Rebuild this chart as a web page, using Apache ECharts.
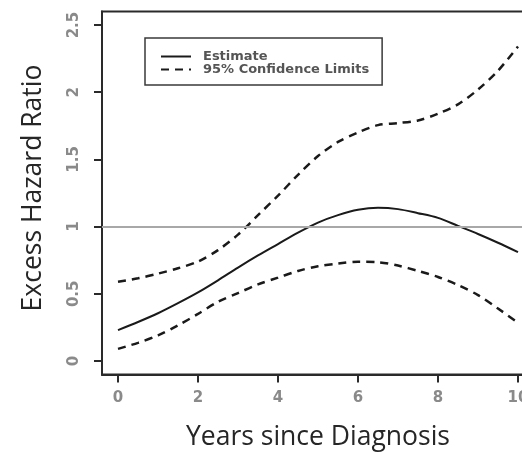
<!DOCTYPE html>
<html>
<head>
<meta charset="utf-8">
<script src="https://cdn.jsdelivr.net/npm/echarts@6/dist/echarts.min.js"></script>
<style>
  html, body { margin: 0; padding: 0; background: #fff; }
  #chart { width: 522px; height: 452px; }
</style>
</head>
<body>
<div id="chart"></div>
<script>
// Years since diagnosis, sampled every half year
const years = [0, 0.5, 1, 1.5, 2, 2.5, 3, 3.5, 4, 4.5, 5, 5.5, 6, 6.5, 7, 7.5, 8, 8.5, 9, 9.5, 10];

// Excess hazard ratio estimate
const estimate = [0.23, 0.29, 0.355, 0.43, 0.51, 0.60, 0.695, 0.785, 0.87, 0.955, 1.03, 1.085, 1.125, 1.14, 1.13, 1.10, 1.065, 1.005, 0.945, 0.88, 0.81];

// 95% confidence limits
const upperLimit = [0.59, 0.615, 0.65, 0.69, 0.74, 0.825, 0.94, 1.085, 1.23, 1.385, 1.525, 1.63, 1.70, 1.755, 1.77, 1.79, 1.84, 1.91, 2.02, 2.16, 2.34];
const lowerLimit = [0.09, 0.135, 0.19, 0.265, 0.35, 0.44, 0.505, 0.57, 0.62, 0.67, 0.705, 0.725, 0.738, 0.735, 0.71, 0.67, 0.625, 0.565, 0.49, 0.39, 0.285];

// Axis ticks
const xTicks = [0, 2, 4, 6, 8, 10];
const yTicks = [0, 0.5, 1, 1.5, 2, 2.5];
const referenceRatio = 1;

const pair = (xs, ys) => xs.map((x, i) => [x, ys[i]]);

const ink = '#1a1a1a';
const axisInk = '#2a2a2a';
const tickText = { color: '#8a8a8a', fontFamily: 'DejaVu Sans', fontSize: 15, fontWeight: 'bold' };
const titleText = { color: '#262626', fontFamily: 'Open Sans', fontSize: 26.5 };

const chart = echarts.init(document.getElementById('chart'), null, { renderer: 'canvas' });

chart.setOption({
  animation: false,
  backgroundColor: '#fff',
  grid: {
    left: 102, top: 11.6, width: 432, height: 362.8,
    show: true, borderColor: axisInk, borderWidth: 2,
    outerBoundsMode: 'none'
  },
  legend: {
    orient: 'vertical',
    left: 145, top: 38,
    padding: [12, 13, 9, 15],
    borderColor: '#3a3a3a', borderWidth: 1.5, borderRadius: 0,
    itemWidth: 30, itemHeight: 14, itemGap: 0,
    itemStyle: { opacity: 0 },
    textStyle: { color: '#555', fontFamily: 'DejaVu Sans', fontSize: 13, fontWeight: 'bold', padding: [0, 0, 0, 7] },
    data: ['Estimate', '95% Confidence Limits']
  },
  xAxis: {
    type: 'value', min: -0.4, max: 10.4,
    name: 'Years since Diagnosis', nameLocation: 'middle', nameGap: 50,
    nameTextStyle: titleText,
    axisLine: { show: true, onZero: false, lineStyle: { color: axisInk, width: 2 } },
    axisTick: { show: true, inside: false, length: 8, customValues: xTicks, lineStyle: { color: axisInk, width: 2 } },
    axisLabel: Object.assign({ customValues: xTicks, margin: 16 }, tickText),
    splitLine: { show: false }
  },
  yAxis: {
    type: 'value', min: -0.1, max: 2.6,
    name: 'Excess Hazard Ratio', nameLocation: 'middle', nameGap: 55,
    nameTextStyle: Object.assign({ padding: [0, 0, 0, 10] }, titleText),
    axisLine: { show: true, onZero: false, lineStyle: { color: axisInk, width: 2 } },
    axisTick: { show: true, inside: false, length: 8, customValues: yTicks, lineStyle: { color: axisInk, width: 2 } },
    axisLabel: Object.assign({ customValues: yTicks, rotate: 90, margin: 20 }, tickText),
    splitLine: { show: false }
  },
  series: [
    {
      name: 'Estimate', type: 'line', smooth: 0.3, symbol: 'none',
      data: pair(years, estimate),
      lineStyle: { color: ink, width: 2 },
      itemStyle: { color: ink },
      markLine: {
        silent: true, symbol: 'none', label: { show: false },
        lineStyle: { color: '#a8a8a8', width: 2, type: 'solid' },
        data: [{ yAxis: referenceRatio }]
      },
      z: 3
    },
    {
      name: '95% Confidence Limits', type: 'line', smooth: 0.3, symbol: 'none',
      data: pair(years, upperLimit),
      lineStyle: { color: ink, width: 2.5, type: [8, 6] },
      itemStyle: { color: ink }
    },
    {
      name: '95% Confidence Limits', type: 'line', smooth: 0.3, symbol: 'none',
      data: pair(years, lowerLimit),
      lineStyle: { color: ink, width: 2.5, type: [8, 6] },
      itemStyle: { color: ink }
    }
  ]
});
</script>
</body>
</html>
